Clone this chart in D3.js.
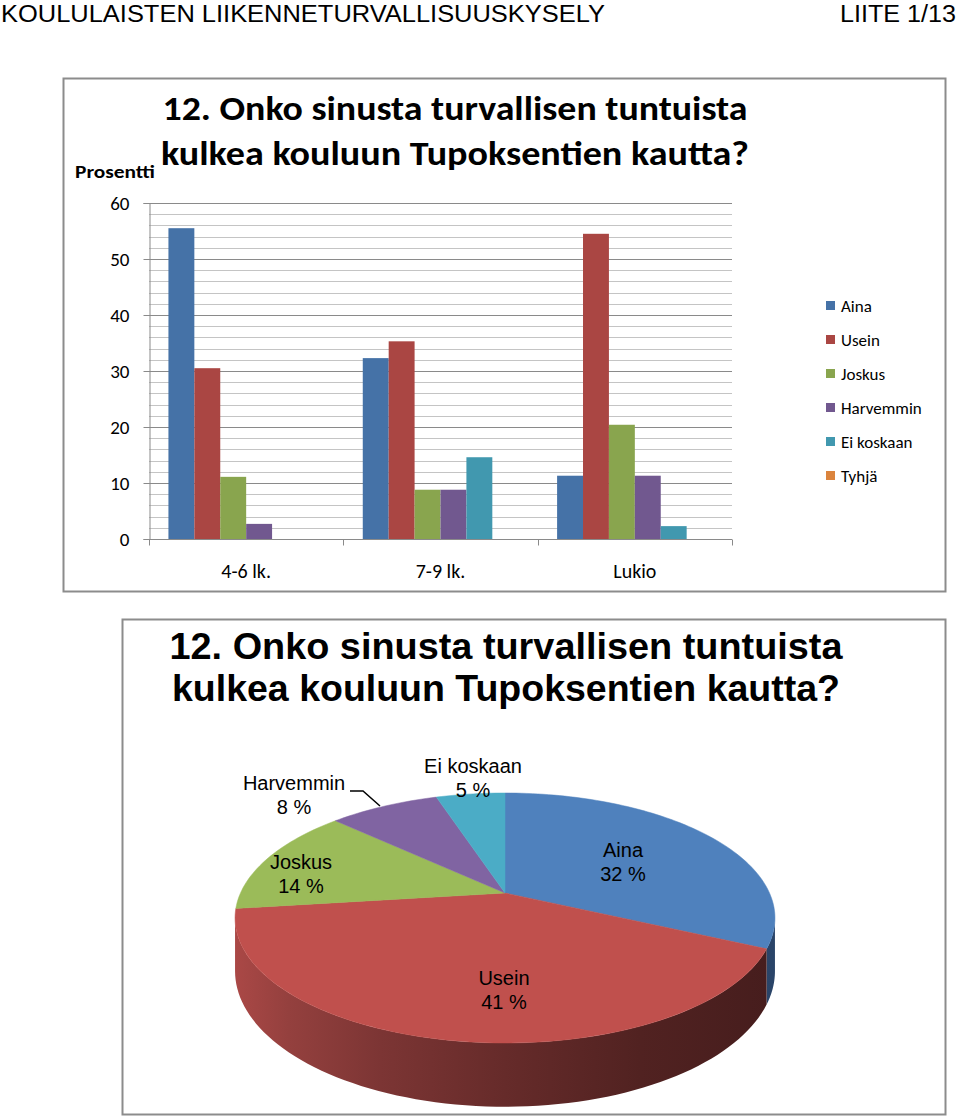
<!DOCTYPE html>
<html>
<head>
<meta charset="utf-8">
<script src="https://cdnjs.cloudflare.com/ajax/libs/d3/7.8.5/d3.min.js"></script>
<style>
  html, body { margin: 0; padding: 0; background: #fff; }
  svg { display: block; }
</style>
</head>
<body>
<svg id="chart" width="960" height="1118"></svg>
<script>
// ---------- DATA ----------
const categories = ["4-6 lk.", "7-9 lk.", "Lukio"];
const seriesNames = ["Aina", "Usein", "Joskus", "Harvemmin", "Ei koskaan", "Tyhjä"];
const aina       = [55.5, 32.3, 11.3];
const usein      = [30.5, 35.3, 54.5];
const joskus     = [11.1, 8.8, 20.4];
const harvemmin  = [2.7, 8.8, 11.3];
const eiKoskaan  = [0, 14.6, 2.3];
const tyhja      = [0, 0, 0];
const yTicks = [0, 10, 20, 30, 40, 50, 60];
const yMinorTicks = d3.range(0, 61, 2);

const pieLabels = ["Aina", "Usein", "Joskus", "Harvemmin", "Ei koskaan"];
const pieValues = [32, 41, 14, 8, 5];

const headerLeft = "KOULULAISTEN LIIKENNETURVALLISUUSKYSELY";
const headerRight = "LIITE 1/13";
const titleLines = ["12. Onko sinusta turvallisen tuntuista", "kulkea kouluun Tupoksentien kautta?"];

// ---------- STYLE ----------
const barColors = ["#4572A7", "#AA4643", "#89A54E", "#71588F", "#4198AF", "#DB843D"];
const pieColors = ["#4F81BD", "#C0504D", "#9BBB59", "#8064A2", "#4BACC6"];
const calibri = "Carlito, Lato, 'Noto Sans', sans-serif";
const arial = "Arial, 'Liberation Sans', sans-serif";

const svg = d3.select("#chart");

// Header
svg.append("text").attr("x", 1).attr("y", 22).attr("font-family", arial).attr("font-size", 23.5)
  .attr("textLength", 604).attr("lengthAdjust", "spacingAndGlyphs").text(headerLeft);
svg.append("text").attr("x", 956).attr("y", 22).attr("text-anchor", "end").attr("font-family", arial)
  .attr("font-size", 23.5).attr("textLength", 116).attr("lengthAdjust", "spacingAndGlyphs").text(headerRight);

// ---------- BAR CHART ----------
svg.append("rect").attr("x", 63.5).attr("y", 78.5).attr("width", 882).attr("height", 513)
  .attr("fill", "#fff").attr("stroke", "#8c8c8c").attr("stroke-width", 2);

const x0 = d3.scaleBand().domain(categories).range([149, 732]).paddingInner(0).paddingOuter(0);
const x1 = d3.scaleBand().domain(seriesNames).range([0, x0.bandwidth()]).paddingInner(0).paddingOuter(0.75);
const y = d3.scaleLinear().domain([0, 60]).range([539, 203]);

// minor gridlines
svg.append("g").selectAll("line").data(yMinorTicks.filter(v => v % 10 !== 0)).join("line")
  .attr("x1", 149).attr("x2", 732).attr("y1", d => Math.round(y(d)) + 0.5).attr("y2", d => Math.round(y(d)) + 0.5)
  .attr("stroke", "#c4c4c4").attr("stroke-width", 1);
// major gridlines
svg.append("g").selectAll("line").data(yTicks.filter(v => v > 0)).join("line")
  .attr("x1", 149).attr("x2", 732).attr("y1", d => Math.round(y(d)) + 0.5).attr("y2", d => Math.round(y(d)) + 0.5)
  .attr("stroke", "#8a8a8a").attr("stroke-width", 1);

// bars
const seriesData = [aina, usein, joskus, harvemmin, eiKoskaan, tyhja];
const barG = svg.append("g");
categories.forEach((cat, ci) => {
  seriesNames.forEach((s, si) => {
    const v = seriesData[si][ci];
    if (v <= 0) return;
    barG.append("rect")
      .attr("x", x0(cat) + x1(s))
      .attr("y", y(v))
      .attr("width", x1.bandwidth())
      .attr("height", y(0) - y(v))
      .attr("fill", barColors[si]);
  });
});

// y axis
const yAxis = d3.axisLeft(y).tickValues(yTicks).tickSize(6).tickPadding(14).tickFormat(d3.format("d"));
const yg = svg.append("g").attr("transform", "translate(149.5,0)").call(yAxis);
yg.select(".domain").attr("stroke", "#8a8a8a");
yg.selectAll(".tick line").attr("stroke", "#8a8a8a");
yg.selectAll(".tick text").attr("font-family", calibri).attr("font-size", 19).attr("fill", "#000").attr("dy", "0.36em");

// x axis
const xAxis = d3.axisBottom(x0).tickSize(0).tickPadding(24);
const xg = svg.append("g").attr("transform", "translate(0,539.5)").call(xAxis);
xg.select(".domain").attr("stroke", "#8a8a8a").attr("d", "M149,0H732");
xg.selectAll(".tick text").attr("font-family", calibri).attr("font-size", 20).attr("fill", "#000");
// category boundary ticks
const bounds = categories.map(c => x0(c)).concat([x0(categories[categories.length - 1]) + x0.bandwidth()]);
xg.append("g").selectAll("line").data(bounds).join("line")
  .attr("x1", d => Math.round(d) + 0.5).attr("x2", d => Math.round(d) + 0.5).attr("y1", 0).attr("y2", 6)
  .attr("stroke", "#8a8a8a");

// Title
titleLines.forEach((t, i) => {
  svg.append("text").attr("x", 455).attr("y", i === 0 ? 120 : 165).attr("text-anchor", "middle")
    .attr("font-family", calibri).attr("font-weight", "bold").attr("font-size", 34)
    .attr("textLength", i === 0 ? 585 : 588).attr("lengthAdjust", "spacingAndGlyphs").text(t);
});
svg.append("text").attr("x", 75).attr("y", 178).attr("font-family", calibri).attr("font-weight", "bold")
  .attr("font-size", 18).attr("textLength", 80).attr("lengthAdjust", "spacingAndGlyphs").text("Prosentti");

// Legend
const legend = svg.append("g");
seriesNames.forEach((s, i) => {
  const ly = 306 + i * 34;
  legend.append("rect").attr("x", 826).attr("y", ly - 5).attr("width", 9).attr("height", 9).attr("fill", barColors[i]);
  legend.append("text").attr("x", 841).attr("y", ly).attr("dy", "0.35em").attr("font-family", calibri)
    .attr("font-size", 17).attr("fill", "#000").text(s);
});

// ---------- PIE CHART ----------
svg.append("rect").attr("x", 122.5).attr("y", 619.5).attr("width", 823).attr("height", 495)
  .attr("fill", "#fff").attr("stroke", "#8c8c8c").attr("stroke-width", 2);

titleLines.forEach((t, i) => {
  svg.append("text").attr("x", 506).attr("y", i === 0 ? 659 : 701).attr("text-anchor", "middle")
    .attr("font-family", arial).attr("font-weight", "bold").attr("font-size", 37)
    .attr("textLength", i === 0 ? 673 : 668).attr("lengthAdjust", "spacingAndGlyphs").text(t);
});

const cx = 505, cy = 893, Rx = 264.5, Ry = 120, persp = 0.2, depth = 51;
function proj(a, r, down) {
  const X = r * Math.sin(a), Z = -r * Math.cos(a);
  const w = 1 / (1 - persp * Z);
  return [cx + Rx * X * w, cy + Ry * Z * w + (down ? depth * w : 0)];
}
const arcs = d3.pie().sort(null).startAngle(0).endAngle(2 * Math.PI)(pieValues);
const line = d3.line();

// gradients for side
const defs = svg.append("defs");
function sideGrad(id, stops) {
  const g = defs.append("linearGradient").attr("id", id).attr("gradientUnits", "userSpaceOnUse")
    .attr("x1", 235).attr("x2", 775).attr("y1", 0).attr("y2", 0);
  stops.forEach(s => g.append("stop").attr("offset", s[0]).attr("stop-color", s[1]));
}
sideGrad("sideRed", [[0, "#AA4846"], [0.1, "#94403E"], [0.27, "#7C3534"], [0.5, "#662B2A"], [0.75, "#512221"], [1, "#461D1D"]]);
sideGrad("sideBlue", [[0, "#3B5F8C"], [1, "#2A4468"]]);
const sideFill = ["url(#sideBlue)", "url(#sideRed)", "#7A9546", "#66507F", "#3A8AA0"];

const visA = Math.acos(-persp), visB = 2 * Math.PI - Math.acos(-persp);
const sideG = svg.append("g");
arcs.forEach((d, i) => {
  const a0 = Math.max(d.startAngle, visA), a1 = Math.min(d.endAngle, visB);
  if (a1 <= a0) return;
  const n = 80;
  const top = d3.range(n + 1).map(k => proj(a0 + (a1 - a0) * k / n, 1, false));
  const bot = d3.range(n + 1).map(k => proj(a0 + (a1 - a0) * k / n, 1, true)).reverse();
  sideG.append("path").attr("d", line(top.concat(bot)) + "Z").attr("fill", sideFill[i]);
});

const topG = svg.append("g");
arcs.forEach((d, i) => {
  const n = Math.max(10, Math.ceil((d.endAngle - d.startAngle) * 40));
  const pts = [[cx, cy]].concat(d3.range(n + 1).map(k => proj(d.startAngle + (d.endAngle - d.startAngle) * k / n, 1, false)));
  topG.append("path").attr("d", line(pts) + "Z").attr("fill", pieColors[i])
    .attr("stroke", pieColors[i]).attr("stroke-width", 0.5);
});

// pie labels
const labelPos = [
  { x: 623, y: 857 },  // Aina
  { x: 504, y: 985 },  // Usein
  { x: 301, y: 869 },  // Joskus
  { x: 294, y: 790 },  // Harvemmin
  { x: 473, y: 773 }   // Ei koskaan
];
const labG = svg.append("g").attr("font-family", arial).attr("font-size", 20).attr("fill", "#000").attr("text-anchor", "middle");
pieLabels.forEach((lbl, i) => {
  const t = labG.append("text").attr("x", labelPos[i].x).attr("y", labelPos[i].y);
  t.append("tspan").attr("x", labelPos[i].x).text(lbl);
  t.append("tspan").attr("x", labelPos[i].x).attr("dy", 24).text(pieValues[i] + " %");
});
// leader line for Harvemmin
svg.append("path").attr("d", line([[350, 791], [363, 791], [380, 806]]))
  .attr("fill", "none").attr("stroke", "#000").attr("stroke-width", 1.5);
</script>
</body>
</html>
